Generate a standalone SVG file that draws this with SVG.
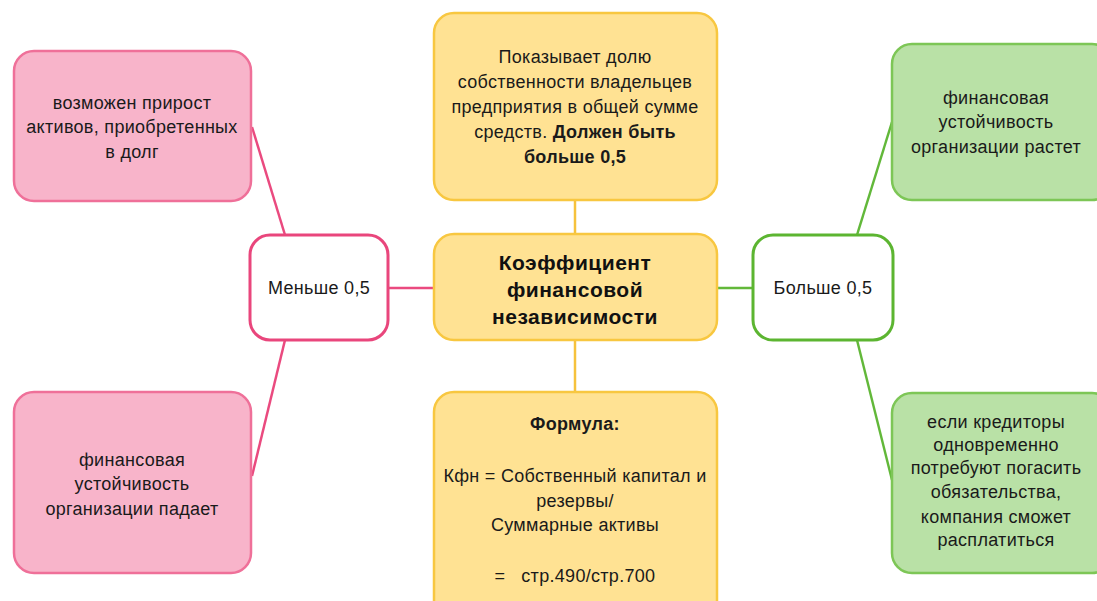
<svg xmlns="http://www.w3.org/2000/svg" width="1097" height="601" viewBox="0 0 1097 601">
<style>
.t{font-family:"Liberation Sans",Arial,sans-serif;font-size:18px;letter-spacing:0.3px;fill:#1a1a1a;text-anchor:middle}
.b{font-weight:bold}
.title{font-family:"Liberation Sans",Arial,sans-serif;font-size:21px;font-weight:bold;fill:#111;text-anchor:middle;letter-spacing:0.5px}
.pink{fill:#f8b4ca;stroke:#ef7099;stroke-width:2.5}
.green{fill:#b9e1a6;stroke:#7dc656;stroke-width:2.5}
.yellow{fill:#ffe293;stroke:#f8c740;stroke-width:2.5}
.wp{fill:#fff;stroke:#e9467c;stroke-width:3}
.wg{fill:#fff;stroke:#5cb531;stroke-width:3}
.cp{stroke:#ea4a7f;stroke-width:2.5;fill:none}
.cg{stroke:#62b83a;stroke-width:2.5;fill:none}
.cy{stroke:#f6c23c;stroke-width:2.5;fill:none}
</style>
<rect width="1097" height="601" fill="#fff"/>
<g id="connectors">
<line class="cy" x1="575" y1="200" x2="575" y2="234"/>
<line class="cy" x1="575" y1="340" x2="575" y2="392"/>
<line class="cp" x1="388" y1="288" x2="434" y2="288"/>
<line class="cg" x1="717" y1="288" x2="753" y2="288"/>
<line class="cp" x1="252" y1="127" x2="285" y2="235"/>
<line class="cp" x1="252" y1="476" x2="285" y2="340"/>
<line class="cg" x1="892" y1="122" x2="857" y2="235"/>
<line class="cg" x1="892" y1="480" x2="857" y2="340"/>
</g>
<g id="top-left">
<rect class="pink" x="14" y="51" width="237" height="150" rx="20"/>
<text class="t"><tspan x="132" y="109">возможен прирост</tspan><tspan x="132" y="133">активов, приобретенных</tspan><tspan x="132" y="158">в долг</tspan></text>
</g>
<g id="bottom-left">
<rect class="pink" x="14" y="392" width="237" height="181" rx="20"/>
<text class="t"><tspan x="132" y="466">финансовая</tspan><tspan x="132" y="490">устойчивость</tspan><tspan x="132" y="515">организации падает</tspan></text>
</g>
<g id="less">
<rect class="wp" x="250" y="235" width="138" height="105" rx="20"/>
<text class="t" x="319" y="294">Меньше 0,5</text>
</g>
<g id="center">
<rect class="yellow" x="434" y="234" width="283" height="106" rx="20"/>
<text class="title"><tspan x="575" y="270">Коэффициент</tspan><tspan x="575" y="297">финансовой</tspan><tspan x="575" y="324">независимости</tspan></text>
</g>
<g id="top-center">
<rect class="yellow" x="434" y="13" width="283" height="187" rx="20"/>
<text class="t"><tspan x="575" y="63">Показывает долю</tspan><tspan x="575" y="88">собственности владельцев</tspan><tspan x="575" y="113">предприятия в общей сумме</tspan><tspan x="575" y="138">средств. <tspan class="b">Должен быть</tspan></tspan><tspan x="575" y="163" class="b">больше 0,5</tspan></text>
</g>
<g id="bottom-center">
<rect class="yellow" x="434" y="392" width="283" height="230" rx="20"/>
<text class="t"><tspan x="575" y="430" class="b">Формула:</tspan><tspan x="575" y="482">Кфн = Собственный капитал и</tspan><tspan x="575" y="507">резервы/</tspan><tspan x="575" y="531">Суммарные активы</tspan><tspan x="575" y="582" xml:space="preserve">=   стр.490/стр.700</tspan></text>
</g>
<g id="more">
<rect class="wg" x="753" y="235" width="140" height="105" rx="20"/>
<text class="t" x="823" y="294">Больше 0,5</text>
</g>
<g id="top-right">
<rect class="green" x="892" y="44" width="220" height="156" rx="20"/>
<text class="t"><tspan x="996" y="104">финансовая</tspan><tspan x="996" y="128">устойчивость</tspan><tspan x="996" y="153">организации растет</tspan></text>
</g>
<g id="bottom-right">
<rect class="green" x="892" y="393" width="220" height="180" rx="20"/>
<text class="t"><tspan x="996" y="428">если кредиторы</tspan><tspan x="996" y="451">одновременно</tspan><tspan x="996" y="474">потребуют погасить</tspan><tspan x="996" y="498">обязательства,</tspan><tspan x="996" y="523">компания сможет</tspan><tspan x="996" y="546">расплатиться</tspan></text>
</g>
</svg>
